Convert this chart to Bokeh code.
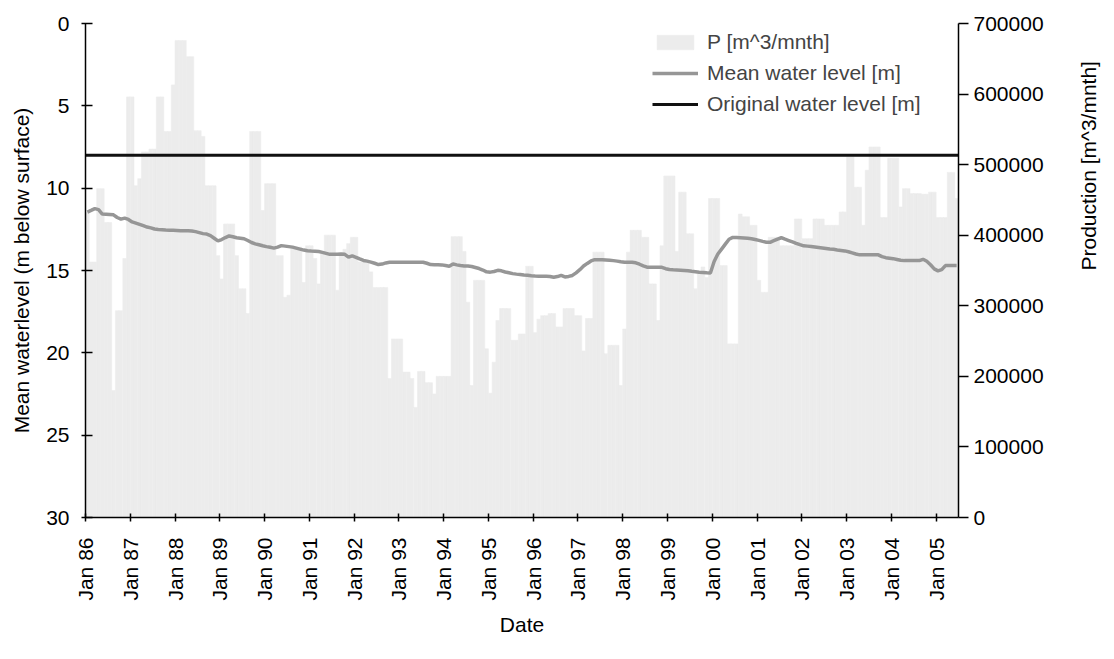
import math
from bokeh.plotting import figure
from bokeh.models import (Range1d, LinearAxis, FixedTicker, Legend, LegendItem,
                          ColumnDataSource, BasicTickFormatter)
from bokeh.embed import file_html
from bokeh.resources import INLINE

# ---------------- data ----------------
start_year = 1986  # first month: Jan 1986, monthly values
production = [  # P [m^3/mnth], in thousands
    432, 362, 362, 466, 466, 418, 418, 180, 293, 293,
    367, 596, 596, 470, 480, 518, 518, 522, 522, 596,
    596, 547, 547, 613, 676, 676, 676, 653, 653, 548,
    548, 540, 470, 470, 470, 371, 338, 416, 416, 416,
    371, 324, 324, 289, 547, 547, 547, 435, 473, 473,
    473, 371, 371, 312, 315, 383, 383, 383, 333, 385,
    385, 367, 331, 374, 400, 400, 400, 322, 371, 380,
    388, 397, 397, 362, 362, 362, 348, 326, 326, 326,
    326, 197, 253, 253, 253, 206, 206, 197, 156, 207,
    207, 191, 191, 175, 200, 200, 200, 200, 398, 398,
    398, 377, 305, 187, 336, 336, 336, 239, 176, 220,
    279, 296, 296, 296, 251, 251, 260, 260, 356, 356,
    262, 281, 286, 286, 289, 289, 270, 270, 296, 296,
    296, 286, 286, 236, 282, 282, 376, 376, 376, 232,
    244, 244, 244, 187, 267, 376, 407, 407, 407, 397,
    397, 331, 331, 279, 385, 484, 484, 484, 377, 461,
    461, 402, 402, 324, 345, 355, 340, 452, 452, 452,
    357, 357, 246, 246, 246, 430, 426, 426, 414, 414,
    336, 319, 319, 397, 397, 397, 385, 385, 385, 385,
    423, 423, 395, 395, 395, 423, 423, 423, 414, 414,
    414, 414, 433, 433, 511, 511, 468, 468, 414, 492,
    525, 525, 525, 425, 425, 509, 509, 509, 440, 466,
    466, 459, 459, 459, 458, 458, 461, 461, 425, 425,
    425, 489, 489, 452,
]
water_level = [  # mean water level [m below surface]
    11.45, 11.35, 11.24, 11.30, 11.57, 11.58, 11.60, 11.62, 11.78, 11.88,
    11.82, 11.90, 12.05, 12.12, 12.20, 12.28, 12.36, 12.41, 12.48, 12.51,
    12.52, 12.54, 12.55, 12.56, 12.57, 12.58, 12.58, 12.59, 12.60, 12.64,
    12.70, 12.76, 12.79, 12.88, 13.04, 13.20, 13.12, 13.00, 12.90, 12.95,
    13.01, 13.04, 13.07, 13.18, 13.30, 13.38, 13.44, 13.50, 13.55, 13.59,
    13.64, 13.58, 13.49, 13.52, 13.55, 13.58, 13.64, 13.70, 13.76, 13.80,
    13.82, 13.83, 13.85, 13.90, 13.96, 14.02, 14.02, 14.01, 14.00, 14.02,
    14.19, 14.11, 14.20, 14.30, 14.39, 14.43, 14.49, 14.56, 14.64, 14.61,
    14.54, 14.50, 14.50, 14.50, 14.50, 14.50, 14.50, 14.50, 14.50, 14.50,
    14.50, 14.56, 14.64, 14.65, 14.65, 14.66, 14.70, 14.74, 14.60, 14.66,
    14.70, 14.72, 14.73, 14.76, 14.82, 14.88, 14.97, 15.08, 15.10, 15.06,
    14.99, 15.02, 15.09, 15.14, 15.19, 15.22, 15.24, 15.27, 15.29, 15.32,
    15.34, 15.35, 15.35, 15.35, 15.36, 15.41, 15.37, 15.29, 15.39, 15.36,
    15.30, 15.14, 14.95, 14.73, 14.57, 14.42, 14.34, 14.34, 14.34, 14.36,
    14.38, 14.40, 14.43, 14.47, 14.50, 14.50, 14.50, 14.53, 14.62, 14.72,
    14.80, 14.80, 14.80, 14.80, 14.81, 14.89, 14.94, 14.96, 14.97, 14.98,
    15.00, 15.02, 15.05, 15.07, 15.10, 15.12, 15.14, 15.15, 14.45, 14.00,
    13.70, 13.40, 13.10, 12.99, 13.00, 13.01, 13.02, 13.04, 13.07, 13.12,
    13.17, 13.23, 13.28, 13.29, 13.19, 13.09, 13.01, 13.10, 13.18, 13.26,
    13.35, 13.43, 13.50, 13.52, 13.54, 13.57, 13.60, 13.63, 13.66, 13.69,
    13.71, 13.75, 13.78, 13.81, 13.86, 13.93, 14.00, 14.05, 14.05, 14.05,
    14.05, 14.05, 14.05, 14.16, 14.22, 14.25, 14.28, 14.33, 14.38, 14.40,
    14.40, 14.40, 14.40, 14.40, 14.32, 14.44, 14.65, 14.90, 15.02, 14.95,
    14.70, 14.70, 14.70, 14.70,
]
original_level = 8.0  # original water level [m below surface]
tick_years = list(range(1986, 2006))
tick_labels = ["Jan %02d" % (y % 100) for y in tick_years]
level_ticks = [0, 5, 10, 15, 20, 25, 30]
prod_ticks = [0, 100000, 200000, 300000, 400000, 500000, 600000, 700000]

# ---------------- derived ----------------
n = len(production)
xs = [start_year + (i + 0.5) / 12 for i in range(n)]
src = ColumnDataSource(dict(x=xs, prod=[v * 1000 for v in production], lvl=water_level))

FONT = "Liberation Sans"
FS = "21px"
BAR = "#ececec"
GREY = "#969696"

x0 = start_year
x1 = start_year + n / 12
p = figure(width=1114, height=659, output_backend="svg", toolbar_location=None,
           x_range=Range1d(x0, x1), y_range=Range1d(30, 0),
           min_border_left=85, min_border_right=156, min_border_top=23, min_border_bottom=142)
p.extra_y_ranges = {"prod": Range1d(0, 700000)}
p.outline_line_color = None
p.xgrid.visible = False
p.ygrid.visible = False
p.background_fill_color = "white"
p.border_fill_color = "white"

bars = p.vbar(x="x", top="prod", width=1 / 12, source=src, y_range_name="prod",
              fill_color=BAR, line_color=BAR, line_width=0.6)
lvl = p.line(x="x", y="lvl", source=src, line_color=GREY, line_width=3.5)
orig = p.line(x=[x0, x1], y=[original_level, original_level], line_color="#111111", line_width=3)

right = LinearAxis(y_range_name="prod", axis_label="Production [m^3/mnth]",
                   ticker=FixedTicker(ticks=prod_ticks),
                   formatter=BasicTickFormatter(use_scientific=False))
p.add_layout(right, "right")

for ax in [p.xaxis[0], p.yaxis[0], right]:
    ax.axis_line_color = "black"
    ax.axis_line_width = 1.5
    ax.major_tick_line_color = "black"
    ax.major_tick_line_width = 1.5
    ax.minor_tick_line_color = None
    ax.major_label_text_font = FONT
    ax.major_label_text_font_size = FS
    ax.major_label_text_color = "black"
    ax.axis_label_text_font = FONT
    ax.axis_label_text_font_size = FS
    ax.axis_label_text_font_style = "normal"
    ax.axis_label_text_color = "black"

xa = p.xaxis[0]
xa.ticker = FixedTicker(ticks=tick_years)
xa.major_label_overrides = {y: l for y, l in zip(tick_years, tick_labels)}
xa.major_label_orientation = math.pi / 2
xa.axis_label = "Date"
xa.major_tick_in = 4
xa.major_tick_out = 4
xa.major_label_standoff = 16
xa.axis_label_standoff = 9

ya = p.yaxis[0]
ya.ticker = FixedTicker(ticks=level_ticks)
ya.axis_label = "Mean waterlevel (m below surface)"
ya.major_tick_in = 7
ya.major_tick_out = 4
ya.major_label_standoff = 12
ya.axis_label_standoff = 10

right.major_tick_in = 0
right.major_tick_out = 10
right.major_label_standoff = 5
right.axis_label_standoff = 42
right.axis_label_orientation = math.pi / 2

legend = Legend(items=[
    LegendItem(label="P [m^3/mnth]", renderers=[bars]),
    LegendItem(label="Mean water level [m]", renderers=[lvl]),
    LegendItem(label="Original water level [m]", renderers=[orig]),
], location=(567, 401))
legend.background_fill_alpha = 0
legend.border_line_color = None
legend.label_text_font = FONT
legend.label_text_font_size = FS
legend.glyph_width = 46
legend.glyph_height = 18
legend.label_height = 22
legend.spacing = 7
legend.padding = 0
legend.margin = 0
legend.label_standoff = 9
p.add_layout(legend, "center")

open("out.html", "w").write(file_html(p, INLINE))
